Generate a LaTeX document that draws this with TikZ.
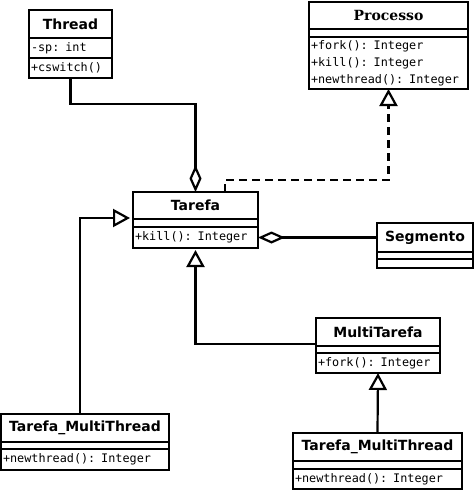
\documentclass[tikz,border=0pt]{standalone}
\usepackage{fontspec}
\setmainfont{DejaVu Sans}
\newfontfamily\opsfont{DejaVu Sans Mono}
\newfontfamily\procfont{DejaVu Serif}
\usepackage{tikz}
\usetikzlibrary{arrows.meta, positioning}

\begin{document}
\begin{tikzpicture}[
  x=1pt, y=-1pt,
  every node/.style={outer sep=0pt, line width=2.2pt},
  head/.style={draw, anchor=north west, minimum height=28pt, inner sep=0pt, font=\fontsize{14}{16}\selectfont\bfseries},
  slot/.style={draw, minimum height=8pt, inner sep=0pt},
  ops/.style={draw, minimum height=20pt, inner xsep=2pt, inner ysep=1pt, align=left, font=\opsfont\fontsize{11.8}{17}\selectfont},
  link/.style={line width=2.2pt},
  aggr/.style={link, -{Diamond[open, length=27pt, width=12pt]}},
  gen/.style={link, -{Triangle[open, length=17pt, width=18pt]}},
  real/.style={gen, dash pattern=on 8pt off 5pt},
]
  \useasboundingbox (0,0) rectangle (474,491);

  % Thread
  \node[head, minimum width=83pt] (th) at (29,10) {Thread};
  \node[ops, text width=79pt, below=0pt of th] (th-a) {-sp: int};
  \node[ops, text width=79pt, below=0pt of th-a] (th-m) {+cswitch()};

  % Processo
  \node[head, minimum width=159pt, minimum height=27pt, font=\fontsize{14}{16}\selectfont\procfont\bfseries] (pr) at (309,2) {Processo};
  \node[slot, minimum width=159pt, below=0pt of pr] (pr-a) {};
  \node[ops, text width=155pt, minimum height=52pt, below=0pt of pr-a] (pr-m) {+fork(): Integer\\+kill(): Integer\\+newthread(): Integer};

  % Tarefa
  \node[head, minimum width=125pt, minimum height=27pt] (ta) at (133,192) {Tarefa};
  \node[slot, minimum width=125pt, below=0pt of ta] (ta-a) {};
  \node[ops, text width=121pt, minimum height=21pt, below=0pt of ta-a] (ta-m) {+kill(): Integer};

  % Segmento
  \node[head, minimum width=96pt, minimum height=29pt] (sg) at (377,223) {Segmento};
  \node[slot, minimum width=96pt, minimum height=7pt, below=0pt of sg] (sg-a) {};
  \node[slot, minimum width=96pt, minimum height=9pt, below=0pt of sg-a] (sg-m) {};

  % MultiTarefa
  \node[head, minimum width=124pt] (mt) at (316,318) {MultiTarefa};
  \node[slot, minimum width=124pt, minimum height=7pt, below=0pt of mt] (mt-a) {};
  \node[ops, text width=120pt, below=0pt of mt-a] (mt-m) {+fork(): Integer};

  % Tarefa_MultiThread (left)
  \node[head, minimum width=168pt] (tl) at (1,414) {Tarefa\_MultiThread};
  \node[slot, minimum width=168pt, minimum height=7pt, below=0pt of tl] (tl-a) {};
  \node[ops, text width=164pt, minimum height=21pt, below=0pt of tl-a] (tl-m) {+newthread(): Integer};

  % Tarefa_MultiThread (right)
  \node[head, minimum width=169pt] (tr) at (293,433) {Tarefa\_MultiThread};
  \node[slot, minimum width=169pt, below=0pt of tr] (tr-a) {};
  \node[ops, text width=165pt, below=0pt of tr-a] (tr-m) {+newthread(): Integer};

  % Links
  \draw[aggr] (th-m.south) -- ++(0,26) -| (ta.north);
  \draw[real] ([xshift=29.5pt]ta.north) -- ++(0,-12) -| (pr-m.south);
  \draw[aggr] (sg.west) -- (sg.west -| ta-m.east);
  \draw[gen, shorten >=3pt] ([xshift=-5pt]tl.north) |- ([yshift=5pt]ta-a.west);
  \draw[gen, shorten >=2pt] ([yshift=-12pt]mt.west) -| (ta-m.south);
  \draw[gen] (tr.north) -- (mt-m.south);
\end{tikzpicture}
\end{document}
